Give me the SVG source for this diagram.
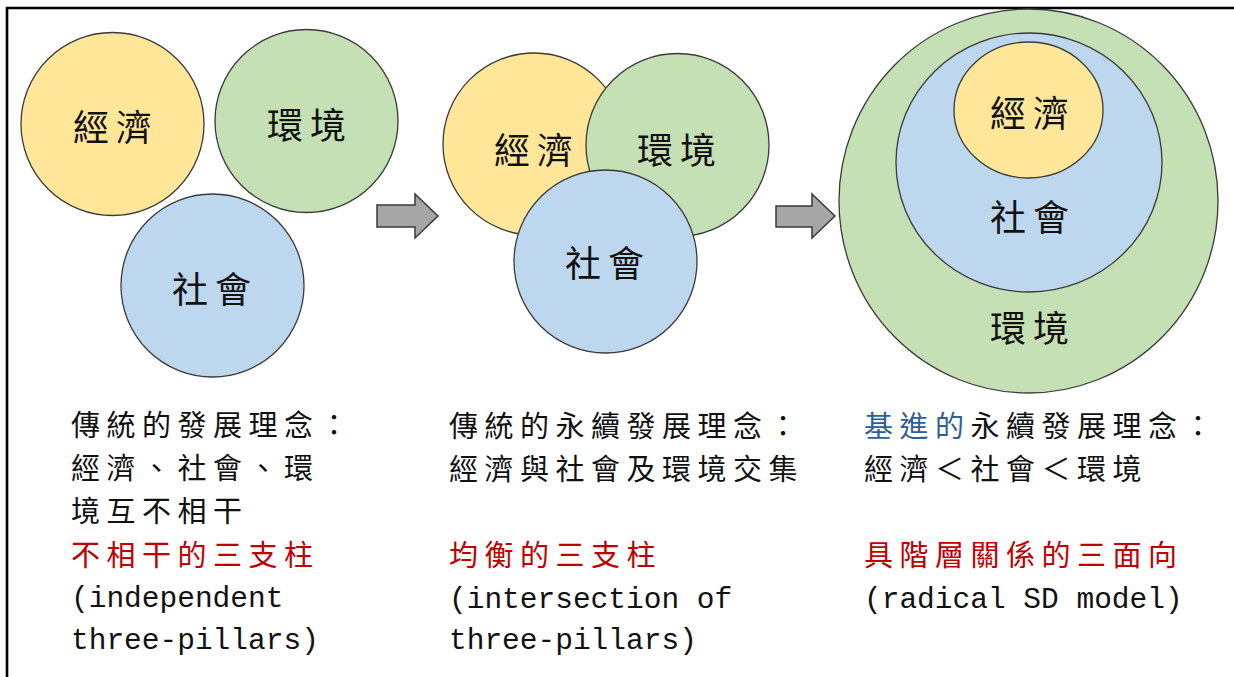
<svg xmlns="http://www.w3.org/2000/svg" width="1234" height="677" viewBox="0 0 1234 677">
<style>
.y{fill:#FFE699;stroke:#3a3a3a;stroke-width:1.3}
.g{fill:#C5E0B4;stroke:#3a3a3a;stroke-width:1.3}
.b{fill:#BDD7EE;stroke:#3a3a3a;stroke-width:1.3}
.lbl{font-family:"Noto Sans CJK TC","Noto Sans CJK SC",sans-serif;font-size:36px;letter-spacing:7px;fill:#111}
.cj{font-family:"Noto Sans CJK TC","Noto Sans CJK SC",sans-serif;font-size:29px;letter-spacing:6.5px;fill:#111}
.red{fill:#C00000}
.blu{fill:#2E5E95}
.en{font-family:"Liberation Mono","DejaVu Sans Mono",monospace;font-size:29.5px;fill:#111}
.arr{fill:#A6A6A6;stroke:#3a3a3a;stroke-width:1.5;stroke-linejoin:miter}
</style>
<rect x="0" y="0" width="1234" height="677" fill="#ffffff"/>
<path d="M7,677 L7,8 L1234,8" fill="none" stroke="#000" stroke-width="2.6"/>

<g id="panel1">
  <g id="p1-economy"><circle class="y" cx="112.5" cy="124" r="91.5"/><text class="lbl" x="73" y="141">經濟</text></g>
  <g id="p1-environment"><circle class="g" cx="306.5" cy="121" r="91.5"/><text class="lbl" x="267" y="139">環境</text></g>
  <g id="p1-society"><circle class="b" cx="212.5" cy="285.5" r="91.5"/><text class="lbl" x="172" y="303">社會</text></g>
  <g id="p1-text">
    <text class="cj" x="71" y="436">傳統的發展理念：</text>
    <text class="cj" x="71" y="479">經濟、社會、環</text>
    <text class="cj" x="71" y="522">境互不相干</text>
    <text class="cj red" x="71" y="566">不相干的三支柱</text>
    <text class="en" x="71" y="607">(independent</text>
    <text class="en" x="71" y="649">three-pillars)</text>
  </g>
</g>

<g id="panel2">
  <g id="p2-economy"><circle class="y" cx="534" cy="144" r="91"/></g>
  <g id="p2-environment"><circle class="g" cx="677.5" cy="145" r="91.5"/></g>
  <g id="p2-society"><circle class="b" cx="605.5" cy="261.5" r="91.5"/></g>
  <g id="p2-labels">
    <text class="lbl" x="494" y="164">經濟</text>
    <text class="lbl" x="637" y="164">環境</text>
    <text class="lbl" x="565" y="277">社會</text>
  </g>
  <g id="p2-text">
    <text class="cj" x="449" y="437">傳統的永續發展理念：</text>
    <text class="cj" x="449" y="480">經濟與社會及環境交集</text>
    <text class="cj red" x="449" y="566">均衡的三支柱</text>
    <text class="en" x="449" y="608">(intersection of</text>
    <text class="en" x="449" y="649">three-pillars)</text>
  </g>
</g>

<g id="panel3">
  <g id="p3-environment"><ellipse class="g" cx="1028.5" cy="201" rx="189.5" ry="192"/><text class="lbl" x="990" y="342">環境</text></g>
  <g id="p3-society"><ellipse class="b" cx="1029" cy="162.5" rx="133" ry="129.5"/><text class="lbl" x="990" y="231">社會</text></g>
  <g id="p3-economy"><ellipse class="y" cx="1028.5" cy="110" rx="74.5" ry="68"/><text class="lbl" x="990" y="127">經濟</text></g>
  <g id="p3-text">
    <text class="cj" x="864" y="437"><tspan class="blu">基進的</tspan>永續發展理念：</text>
    <text class="cj" x="864" y="480">經濟＜社會＜環境</text>
    <text class="cj red" x="864" y="566">具階層關係的三面向</text>
    <text class="en" x="864" y="608">(radical SD model)</text>
  </g>
</g>

<g id="connectors">
  <polygon class="arr" points="377,205 415,205 415,194 438,216 415,238 415,227 377,227"/>
  <polygon class="arr" points="776,206 812,206 812,194 835,216 812,238 812,227 776,227"/>
</g>
</svg>
